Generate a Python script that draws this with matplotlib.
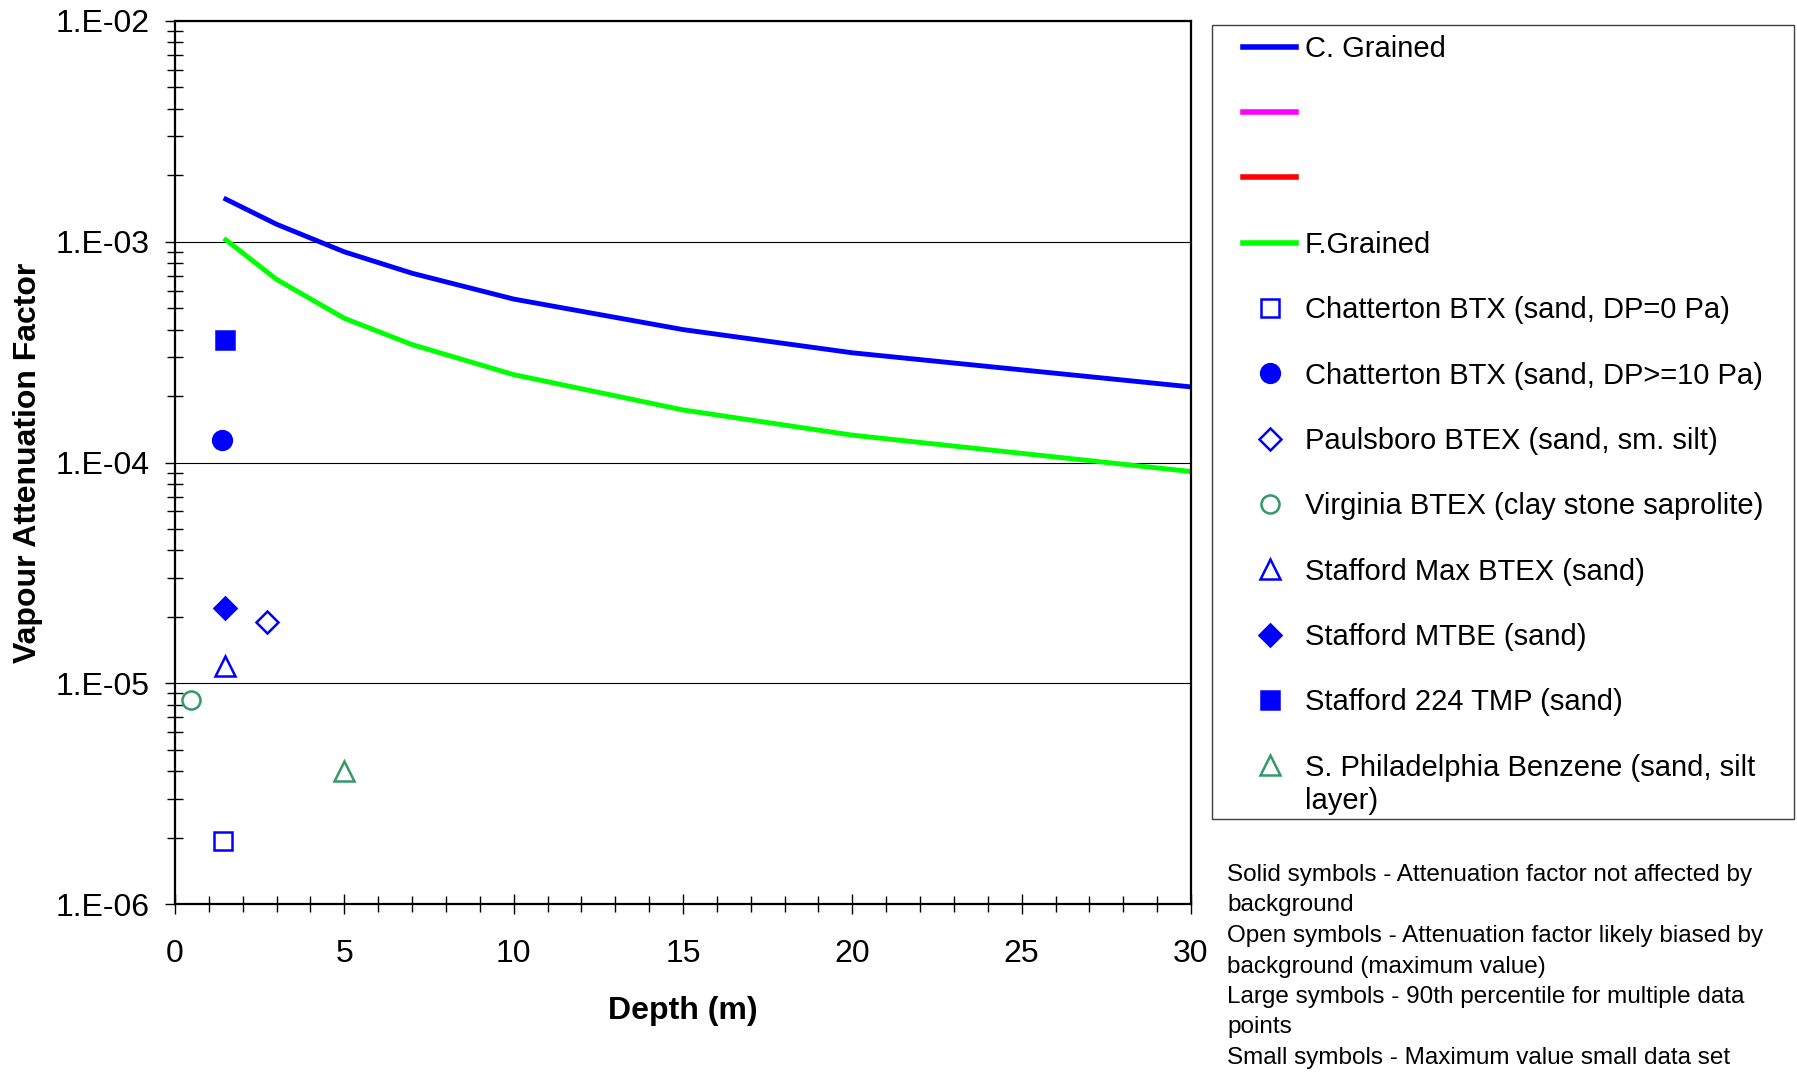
import numpy as np
import matplotlib.pyplot as plt
import matplotlib.ticker as mticker
from matplotlib.lines import Line2D
from matplotlib.patches import Rectangle

plt.rcParams['font.family'] = ['Liberation Sans', 'DejaVu Sans']

# model curves
depth = [1.5, 3, 5, 7, 10, 15, 20, 30]
c_grained = [1.56e-3, 1.2e-3, 9.0e-4, 7.2e-4, 5.5e-4, 4.0e-4, 3.14e-4, 2.2e-4]
f_grained = [1.02e-3, 6.75e-4, 4.5e-4, 3.42e-4, 2.5e-4, 1.73e-4, 1.33e-4, 9.1e-5]

# field data (depth, attenuation factor)
site_names = ['Chatterton BTX (sand, DP=0 Pa)',
              'Chatterton BTX (sand, DP>=10 Pa)',
              'Paulsboro BTEX (sand, sm. silt)',
              'Virginia BTEX (clay stone saprolite)',
              'Stafford Max BTEX (sand)',
              'Stafford MTBE (sand)',
              'Stafford 224 TMP (sand)',
              'S. Philadelphia Benzene (sand, silt']
site_depth = [1.42, 1.39, 2.71, 0.47, 1.49, 1.49, 1.49, 4.98]
site_af = [1.93e-6, 1.27e-4, 1.9e-5, 8.4e-6, 1.2e-5, 2.2e-5, 3.6e-4, 4.0e-6]
site_marker = ['s', 'o', 'D', 'o', '^', 'D', 's', '^']
site_color = ['#0000FF', '#0000FF', '#0000FF', '#339966', '#0000FF', '#0000FF', '#0000FF', '#339966']
site_filled = [False, True, False, False, False, True, True, False]
site_size = [13, 13.5, 11, 13, 14, 11, 13, 14]

note = ("Solid symbols - Attenuation factor not affected by\nbackground\n"
        "Open symbols - Attenuation factor likely biased by\nbackground (maximum value)\n"
        "Large symbols - 90th percentile for multiple data\npoints\n"
        "Small symbols - Maximum value small data set")

W, H = 1797, 1073
fig = plt.figure(figsize=(W/100, H/100), dpi=100)
ax = fig.add_axes([175/W, 1-904/H, (1191-175)/W, (904-21)/H])

ax.plot(depth, c_grained, color='#0000FF', lw=3.5)
ax.plot(depth, f_grained, color='#00FF00', lw=3.5)

handles = [Line2D([], [], color='#0000FF', lw=4),
           Line2D([], [], color='#FF00FF', lw=4),
           Line2D([], [], color='#FF0000', lw=4),
           Line2D([], [], color='#00FF00', lw=4)]
labels = ['C. Grained', '', '', 'F.Grained']
for x, y, m, c, f, s, name in zip(site_depth, site_af, site_marker, site_color,
                                  site_filled, site_size, site_names):
    fc = c if f else 'none'
    ax.plot([x], [y], marker=m, ms=s, mfc=fc, mec=c, mew=1.8, ls='none')
    handles.append(Line2D([], [], marker=m, ms=s, mfc=fc, mec=c, mew=1.8, ls='none'))
    labels.append(name)

ax.set_yscale('log')
ax.set_ylim(1e-6, 1e-2)
ax.set_xlim(0, 30)
ax.yaxis.set_major_locator(mticker.LogLocator(base=10))
ax.yaxis.set_minor_locator(mticker.LogLocator(base=10, subs=np.arange(2, 10)))
ax.yaxis.set_minor_formatter(mticker.NullFormatter())
ax.yaxis.set_major_formatter(mticker.FuncFormatter(lambda v, p: '1.E-%02d' % round(-np.log10(v))))
ax.xaxis.set_major_locator(mticker.MultipleLocator(5))
ax.xaxis.set_minor_locator(mticker.MultipleLocator(1))
ax.grid(True, which='major', axis='y', color='black', lw=0.8)

ax.tick_params(axis='y', which='major', direction='out', length=7, width=1, labelsize=23, pad=11)
ax.tick_params(axis='y', which='minor', direction='inout', length=11, width=1)
ax.tick_params(axis='x', which='major', direction='inout', length=14, width=1, labelsize=23, pad=18)
ax.tick_params(axis='x', which='minor', direction='inout', length=11, width=1)
for sp in ax.spines.values():
    sp.set_linewidth(1.6)

ax.set_xlabel('Depth (m)', fontsize=23, fontweight='bold', labelpad=20)
ax.set_ylabel('Vapour Attenuation Factor', fontsize=23, fontweight='bold', labelpad=9)

# legend frame drawn separately (wider on the left than on top)
fig.add_artist(Rectangle((1212/W, 1-819/H), (1794-1212)/W, (819-25)/H,
                         transform=fig.transFigure, fill=False, ec='#404040', lw=1))

leg = fig.legend(handles, labels, loc='upper left', bbox_to_anchor=(1243/W, 1-35/H),
                 borderaxespad=0, borderpad=0, fontsize=21, labelspacing=1.28,
                 handlelength=1.82, handletextpad=0.3, numpoints=1, frameon=False)

# second line of the last legend entry
fig.canvas.draw()
bb = leg.get_texts()[-1].get_window_extent()
fig.text(bb.x0/W, (bb.y0+bb.y1)/2/H - 33/H, 'layer)', fontsize=21, va='center', ha='left')

fig.text(1227/W, 1-864/H, note, fontsize=17.5, va='top', ha='left', linespacing=1.5)

fig.savefig('out.png', dpi=100)
